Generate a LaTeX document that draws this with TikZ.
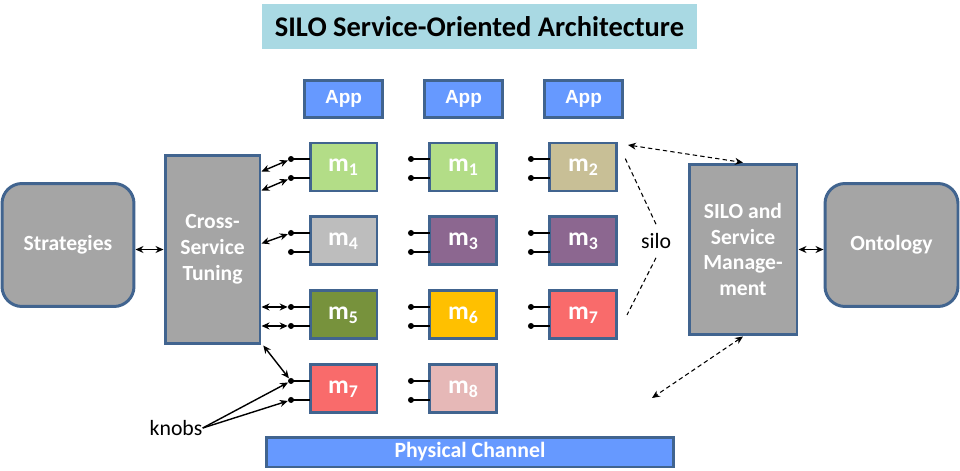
\documentclass[tikz,border=0pt]{standalone}
\usepackage{fontspec}
\setmainfont{Carlito}
\newfontfamily\appfont{Liberation Sans}
\usetikzlibrary{arrows.meta,positioning,calc}

\definecolor{edgeblue}{HTML}{41648F}
\definecolor{boxgray}{HTML}{A5A5A5}
\definecolor{appblue}{HTML}{6699FF}
\definecolor{titleblue}{HTML}{A9D9E3}
\definecolor{modgreen}{HTML}{B3DD87}
\definecolor{modkhaki}{HTML}{C8BF96}
\definecolor{modgray}{HTML}{BDBDBD}
\definecolor{modpurple}{HTML}{8C6790}
\definecolor{modolive}{HTML}{77923C}
\definecolor{modgold}{HTML}{FFC000}
\definecolor{modred}{HTML}{F96B6B}
\definecolor{modpink}{HTML}{E6B8B7}

\begin{document}
\begin{tikzpicture}[
    x=0.02cm, y=-0.02cm,
    every node/.style={inner sep=0pt},
    node distance=0.52cm and 1.06cm,
    block/.style={rectangle, draw=edgeblue, fill=boxgray, line width=1.7pt, text=white, align=center, font=\bfseries\fontsize{12.3}{14.7}\selectfont},
    module/.style={rectangle, draw=edgeblue, fill=#1, line width=1.7pt, outer sep=0pt, minimum width=1.34cm, minimum height=0.96cm, text=white, font=\bfseries\fontsize{14.5}{16}\selectfont},
    app/.style={rectangle, draw=edgeblue, fill=appblue, line width=1.7pt, outer sep=0pt, minimum width=1.56cm, minimum height=0.74cm, text=white, font=\appfont\bfseries\fontsize{10.8}{13}\selectfont},
    knob/.style={circle, fill=black, minimum size=0.12cm},
    pin/.style={line width=0.9pt},
    tune/.style={{Stealth[length=1.6mm,width=1.4mm]}-{Stealth[length=1.6mm,width=1.4mm]}, line width=0.8pt},
    point/.style={-{Stealth[length=1.6mm,width=1.4mm]}, line width=0.8pt},
    dlink/.style={{Stealth[length=1.6mm,width=1.4mm]}-{Stealth[length=1.6mm,width=1.4mm]}, line width=0.6pt, dash pattern=on 2.5pt off 1.8pt},
    note/.style={font=\fontsize{12.4}{14}\selectfont},
]
\useasboundingbox (0,0) rectangle (960,470);

% Title
\node[rectangle, fill=titleblue, minimum width=8.7cm, minimum height=0.9cm, font=\bfseries\fontsize{16.2}{19}\selectfont] (title) at (479.5,26.5) {SILO Service-Oriented Architecture};

% Outer blocks
\node[block, rounded corners=0.4cm, minimum width=2.64cm, minimum height=2.46cm] (strat) at (68,245) {Strategies};
\node[block, minimum width=1.9cm, minimum height=3.78cm] (cst) at (212.5,249.5) {Cross-\\Service\\Tuning};
\node[block, minimum width=2.16cm, minimum height=3.42cm] (mgmt) at (743,249.5) {SILO and\\Service\\Manage-\\ment};
\node[block, rounded corners=0.4cm, minimum width=2.66cm, minimum height=2.46cm] (onto) at (891.5,245) {Ontology};

% Module grid
\node[module=modgreen] (mod11) at (343.5,167) {m\textsubscript{1}};
\node[module=modgreen, right=of mod11] (mod12) {m\textsubscript{1}};
\node[module=modkhaki, right=of mod12] (mod13) {m\textsubscript{2}};
\node[module=modgray, below=of mod11] (mod21) {m\textsubscript{4}};
\node[module=modpurple, below=of mod12] (mod22) {m\textsubscript{3}};
\node[module=modpurple, below=of mod13] (mod23) {m\textsubscript{3}};
\node[module=modolive, below=of mod21] (mod31) {m\textsubscript{5}};
\node[module=modgold, below=of mod22] (mod32) {m\textsubscript{6}};
\node[module=modred, below=of mod23] (mod33) {m\textsubscript{7}};
\node[module=modred, below=of mod31] (mod41) {m\textsubscript{7}};
\node[module=modpink, below=of mod32] (mod42) {m\textsubscript{8}};

% Apps and channel
\node[app, above=0.52cm of mod11] (app1) {App};
\node[app, above=0.52cm of mod12] (app2) {App};
\node[app, above=0.52cm of mod13] (app3) {App};
\node[rectangle, draw=edgeblue, fill=appblue, line width=1.7pt, minimum width=8.16cm, minimum height=0.6cm, text=white, font=\bfseries\fontsize{12.4}{14}\selectfont] (phys) at (470,452) {Physical Channel};

% Knob pins
\foreach \m in {mod11,mod12,mod13,mod21,mod22,mod23,mod31,mod32,mod33,mod41,mod42}{
  \node[knob] (\m-t) at ([xshift=-0.38cm,yshift=0.16cm]\m.west) {};
  \node[knob] (\m-b) at ([xshift=-0.38cm,yshift=-0.22cm]\m.west) {};
  \draw[pin] (\m-t.center) -- ([yshift=0.16cm]\m.west);
  \draw[pin] (\m-b.center) -- ([yshift=-0.22cm]\m.west);
}

% Tuning links
\draw[tune] ([yshift=-0.36cm]cst.north east) -- (mod11-t);
\draw[tune] ([yshift=-0.74cm]cst.north east) -- (mod11-b);
\draw[tune] ([yshift=-1.8cm]cst.north east) -- (mod21-t);
\draw[tune] (mod31-t -| cst.east) -- (mod31-t);
\draw[tune] (mod31-b -| cst.east) -- (mod31-b);
\draw[tune] ([xshift=1pt]cst.south east) -- (mod41-t);
\draw[tune] (cst.west -| strat.east) -- (cst.west);
\draw[tune] (mgmt.east) -- (mgmt.east -| onto.west);

% Knobs label
\node[note] (knobs) at (176,428) {knobs};
\draw[point] (knobs.east) -- (mod41-t);
\draw[point] (knobs.east) -- (mod41-b);

% Silo label and management links
\node[note, inner sep=5pt] (silo) at (656,241) {silo};
\coordinate (silotop) at (625,158);
\coordinate (silobot) at (627,315);
\draw[line width=0.6pt, dash pattern=on 2.5pt off 1.8pt] (silo.north) -- (silotop);
\draw[line width=0.6pt, dash pattern=on 2.5pt off 1.8pt] (silo.south) -- (silobot);
\coordinate (dtop) at (628,145);
\coordinate (dbot) at (652,398);
\draw[dlink] (dtop) -- (mgmt.north);
\draw[dlink] (mgmt.south) -- (dbot);

\end{tikzpicture}
\end{document}
